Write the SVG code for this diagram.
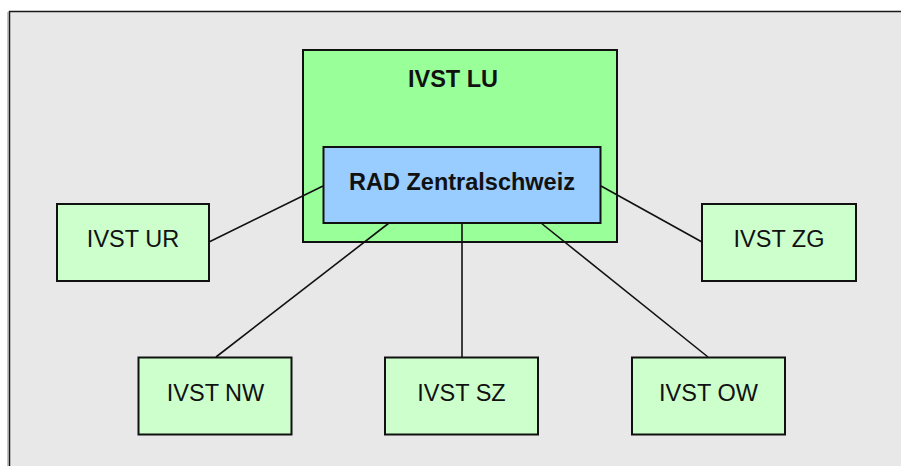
<svg xmlns="http://www.w3.org/2000/svg" width="901" height="466" viewBox="0 0 901 466">
<style>
.box{stroke:#111;stroke-width:2}
.small{fill:#ccffcc}
.lbl{font-family:"Liberation Sans",Arial,sans-serif;font-size:23.5px;fill:#111;text-anchor:middle}
.bold{font-weight:bold}
.conn line{stroke:#111;stroke-width:1.6}
</style>
<rect x="0" y="0" width="901" height="466" fill="#ffffff"/>
<rect x="9.5" y="11.5" width="900" height="470" fill="#e8e8e8" stroke="#1a1a1a" stroke-width="1.5"/>
<line x1="8" y1="12" x2="8" y2="466" stroke="#888" stroke-width="1"/>
<g id="ivst-lu">
<rect class="box" x="303" y="50" width="314" height="192" fill="#99ff99"/>
<text class="lbl bold" x="453" y="87">IVST LU</text>
</g>
<g id="conns" class="conn">
<line x1="209" y1="242" x2="323" y2="186"/>
<line x1="601" y1="186" x2="702" y2="242"/>
<line x1="389" y1="223" x2="216" y2="357"/>
<line x1="462" y1="223" x2="462" y2="357"/>
<line x1="541" y1="223" x2="708" y2="357"/>
</g>
<g id="rad">
<rect class="box" x="323.5" y="147" width="277" height="76" fill="#99ccff"/>
<text class="lbl bold" x="462" y="190">RAD Zentralschweiz</text>
</g>
<g id="ivst-ur">
<rect class="box small" x="57" y="204" width="152" height="77"/>
<text class="lbl" x="133" y="247">IVST UR</text>
</g>
<g id="ivst-zg">
<rect class="box small" x="702" y="204" width="154" height="77"/>
<text class="lbl" x="779" y="247">IVST ZG</text>
</g>
<g id="ivst-nw">
<rect class="box small" x="138.5" y="357.5" width="153" height="77"/>
<text class="lbl" x="215.5" y="401">IVST NW</text>
</g>
<g id="ivst-sz">
<rect class="box small" x="385" y="357.5" width="153" height="77"/>
<text class="lbl" x="461.5" y="401">IVST SZ</text>
</g>
<g id="ivst-ow">
<rect class="box small" x="632" y="357.5" width="153" height="77"/>
<text class="lbl" x="708.5" y="401">IVST OW</text>
</g>
</svg>
